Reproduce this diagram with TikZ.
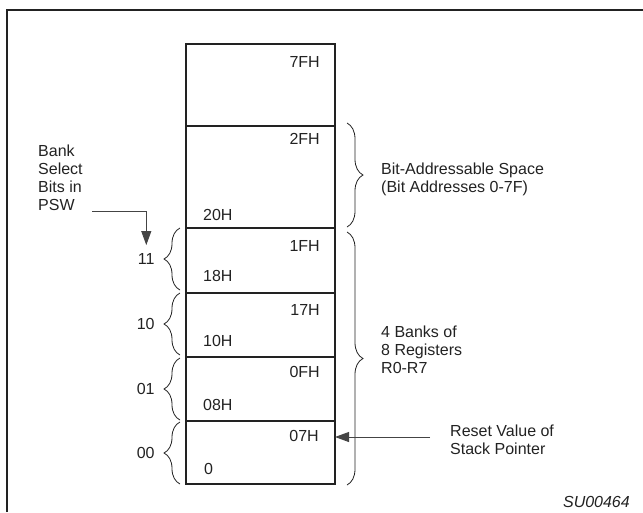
\documentclass[tikz,border=0pt]{standalone}
\usepackage{fontspec}
\setmainfont{Liberation Sans}
\usetikzlibrary{positioning,arrows.meta,decorations.pathreplacing}
\definecolor{ink}{HTML}{222222}
\definecolor{wire}{HTML}{444444}

\begin{document}
\begin{tikzpicture}[x=1pt,y=-1pt,
  every node/.style={font=\fontsize{16}{18}\selectfont, text=ink, inner sep=0pt},
  cell/.style={draw=ink, line width=1.6pt, minimum width=149pt, outer sep=0pt},
  hi/.style={anchor=east},
  lo/.style={anchor=west},
  bankbrace/.style={draw=ink, line width=0.8pt, decorate,
    decoration={brace, amplitude=16pt}},
  pointer/.style={draw=wire, line width=0.9pt,
    -{Triangle[length=14pt,width=10pt]}},
  note/.style={align=left, anchor=west}]

\useasboundingbox (0,0) rectangle (643,512);

%% outer frame (runs off the page at right and bottom)
\draw[ink, line width=2pt] (6.5,512) -- (6.5,10) -- (643,10);

%% memory cells, top to bottom
\node[cell, minimum height=82pt, anchor=north west] (c7f) at (186,44) {};
\node[cell, minimum height=102pt, below=0pt of c7f] (c2f) {};
\node[cell, minimum height=65pt, below=0pt of c2f] (c1f) {};
\node[cell, minimum height=64pt, below=0pt of c1f] (c17) {};
\node[cell, minimum height=64pt, below=0pt of c17] (c0f) {};
\node[cell, minimum height=63pt, below=0pt of c0f] (c07) {};

%% addresses
\node[hi] (l7f) at ([shift={(-15,18)}]c7f.north east) {7FH};
\node[hi] (l2f) at ([shift={(-15,13)}]c2f.north east) {2FH};
\node[lo] (l20) at ([shift={(17,-13)}]c2f.south west) {20H};
\node[hi] (l1f) at ([shift={(-15,18)}]c1f.north east) {1FH};
\node[lo] (l18) at ([shift={(17,-17)}]c1f.south west) {18H};
\node[hi] (l17) at ([shift={(-15,17)}]c17.north east) {17H};
\node[lo] (l10) at ([shift={(17,-16)}]c17.south west) {10H};
\node[hi] (l0f) at ([shift={(-15,15)}]c0f.north east) {0FH};
\node[lo] (l08) at ([shift={(17,-16)}]c0f.south west) {08H};
\node[hi] (l07) at ([shift={(-16,15)}]c07.north east) {07H};
\node[lo] (l00) at ([shift={(18,-15)}]c07.south west) {0};

%% bank select braces
\draw[bankbrace] (180,290) -- node[left=25pt] (b11) {11} (180,228);
\draw[bankbrace] (180,355) -- node[left=25pt] (b10) {10} (180,293);
\draw[bankbrace] (180,420) -- node[left=25pt] (b01) {01} (180,358);
\draw[bankbrace] (180,484) -- node[left=25pt] (b00) {00} (180,422);

%% right hand braces
\draw[bankbrace] (347,123) -- (347,227);
\draw[bankbrace] (347,232) -- (347,485);

%% notes
\node[note] (psw) at (38,178) {Bank\\Select\\Bits in\\PSW};
\node[note] (bitspace) at (381,179.5) {Bit-Addressable Space\\(Bit Addresses 0-7F)};
\node[note] (banks) at (381,350) {4 Banks of\\8 Registers\\R0-R7};
\node[note] (reset) at (450,439.5) {Reset Value of\\Stack Pointer};
\node[anchor=east, font=\fontsize{16}{18}\selectfont\itshape] (fig) at (630,502)
  {SU00464};

%% pointers
\coordinate (pswtail) at (92,211);
\draw[pointer, shorten >=8pt] (pswtail) -| (b11.north);
\coordinate (rsttail) at (430,437);
\draw[pointer] (rsttail) -- (rsttail -| c07.east);

\end{tikzpicture}
\end{document}
